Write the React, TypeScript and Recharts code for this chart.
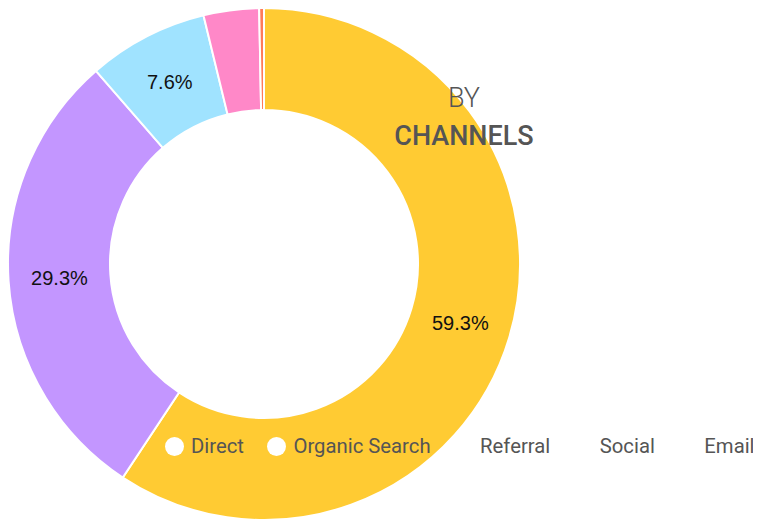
import { PieChart, Pie, Cell, Legend } from 'recharts';

const channels = ['Direct', 'Organic Search', 'Referral', 'Social', 'Email'];
const shares = [59.3, 29.3, 7.6, 3.5, 0.3];
const colors = ['#FFCB33', '#C396FF', '#A0E3FF', '#FF88C8', '#FF7A59'];
const iconColors = ['#FFFFFF', '#FFFFFF', '#FFFFFF', '#FFFFFF', '#FFFFFF'];

const data = channels.map((name, i) => ({ name, value: shares[i] }));

const RADIAN = Math.PI / 180;

const renderLabel = (props: any) => {
    const { cx, cy, midAngle, innerRadius, outerRadius, value } = props;
    if (value < 5) return null;
    const r = (innerRadius + outerRadius) / 2;
    const x = cx + r * Math.cos(-midAngle * RADIAN);
    const y = cy + r * Math.sin(-midAngle * RADIAN);
    return (
        <text
            x={x}
            y={y}
            fill="#111"
            textAnchor="middle"
            dominantBaseline="central"
            fontSize={20}
            fontFamily="'Liberation Sans', Arial, sans-serif"
        >
            {value.toFixed(1)}%
        </text>
    );
};

const ChannelLegend = () => (
    <div
        style={{
            display: 'flex',
            alignItems: 'center',
            whiteSpace: 'nowrap',
            fontFamily: 'Roboto, sans-serif',
            fontSize: 20.3,
            color: '#555',
        }}
    >
        {channels.map((name, i) => (
            <div key={name} style={{ display: 'flex', alignItems: 'center', marginRight: 23.5, flexShrink: 0 }}>
                <span
                    style={{
                        width: 19,
                        height: 19,
                        borderRadius: '50%',
                        background: iconColors[i],
                        display: 'inline-block',
                        marginRight: 7,
                    }}
                />
                <span>{name}</span>
            </div>
        ))}
    </div>
);

export default function App() {
    return (
        <div style={{ position: 'relative', width: 753, height: 512 }}>
            <PieChart width={753} height={512} margin={{ top: 0, right: 0, bottom: 0, left: 0 }}>
                <Pie
                    data={data}
                    dataKey="value"
                    nameKey="name"
                    cx={256}
                    cy={256}
                    innerRadius={154}
                    outerRadius={256}
                    startAngle={90}
                    endAngle={-270}
                    stroke="#FFFFFF"
                    strokeWidth={2}
                    label={renderLabel}
                    labelLine={false}
                    isAnimationActive={false}
                >
                    {data.map((d, i) => (
                        <Cell key={d.name} fill={colors[i]} />
                    ))}
                </Pie>
                <Legend
                    content={<ChannelLegend />}
                    wrapperStyle={{ position: 'absolute', top: 426, left: 157, width: 600 }}
                />
            </PieChart>
            <div
                style={{
                    position: 'absolute',
                    top: 71,
                    left: 356,
                    width: 200,
                    textAlign: 'center',
                    fontFamily: 'Roboto, sans-serif',
                    color: '#555',
                    fontSize: 27,
                    lineHeight: '38px',
                }}
            >
                <div style={{ fontWeight: 300 }}>BY</div>
                <div style={{ fontWeight: 500 }}>CHANNELS</div>
            </div>
        </div>
    );
}
